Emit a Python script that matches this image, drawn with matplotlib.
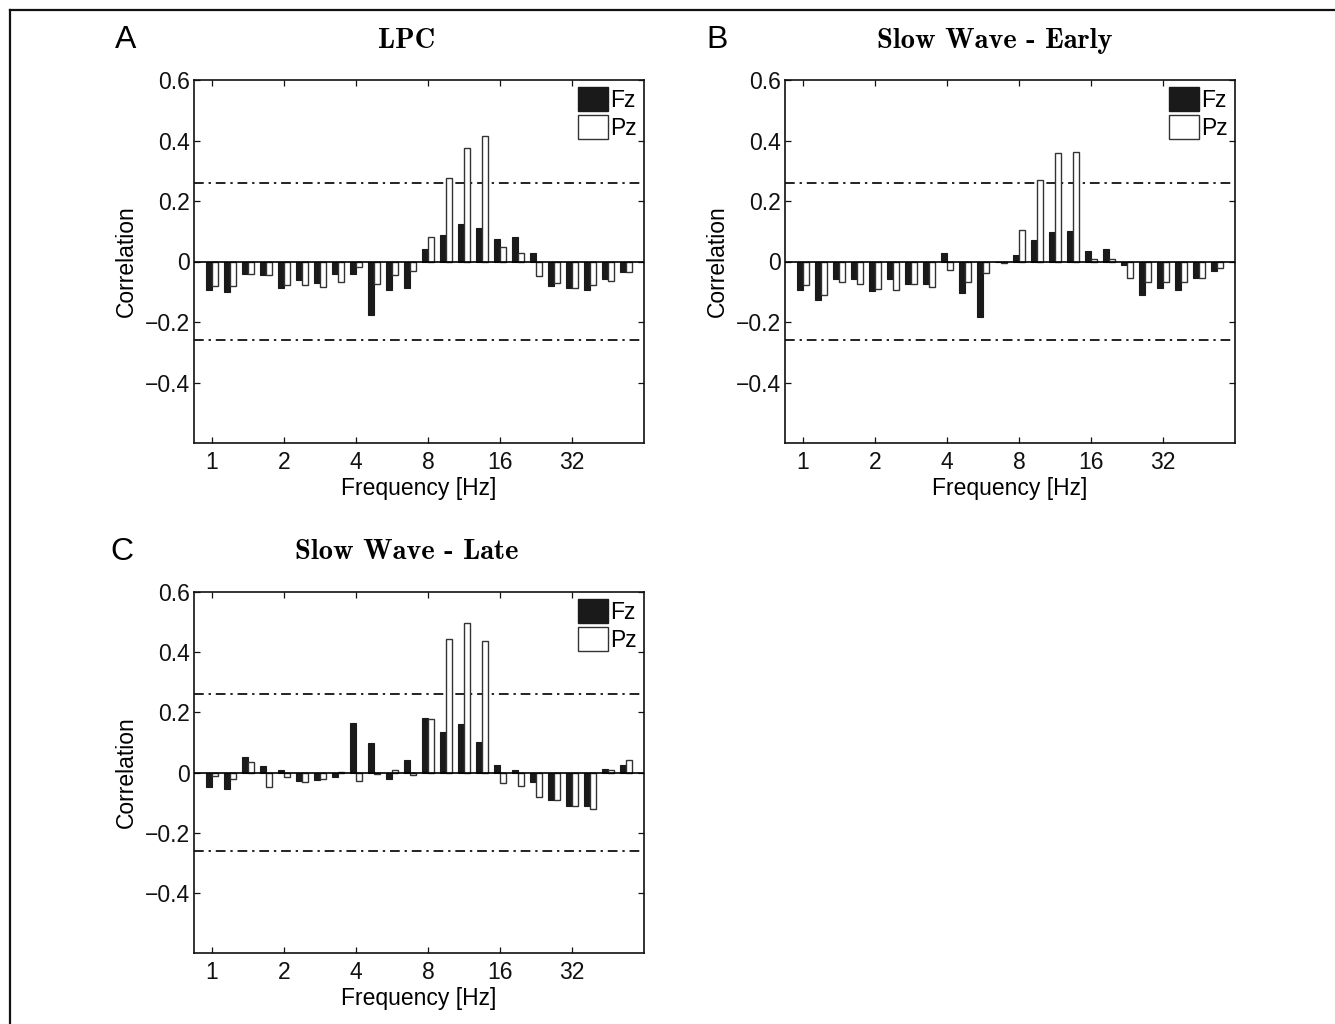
import numpy as np
import matplotlib
matplotlib.use("Agg")
import matplotlib.pyplot as plt
from matplotlib.lines import Line2D

# Frequency bins (quarter-octave steps from 1 Hz)
freq_hz = [1.00, 1.19, 1.41, 1.68, 2.00, 2.38, 2.83, 3.36,
           4.00, 4.76, 5.66, 6.73, 8.00, 9.51, 11.31, 13.45,
           16.00, 19.03, 22.63, 26.91, 32.00, 38.05, 45.25, 53.82]
tick_freqs = [1, 2, 4, 8, 16, 32]
tick_labels = ["1", "2", "4", "8", "16", "32"]

# Correlations per bin, Fz and Pz electrodes
lpc_fz = [-0.093, -0.102, -0.042, -0.045, -0.086, -0.062, -0.070, -0.042,
          -0.040, -0.178, -0.093, -0.089, 0.041, 0.088, 0.124, 0.111,
          0.076, 0.080, 0.027, -0.082, -0.089, -0.093, -0.057, -0.036]
lpc_pz = [-0.082, -0.082, -0.042, -0.046, -0.077, -0.079, -0.085, -0.067,
          -0.019, -0.075, -0.045, -0.031, 0.080, 0.277, 0.376, 0.414,
          0.047, 0.029, -0.047, -0.070, -0.089, -0.079, -0.064, -0.034]

early_fz = [-0.093, -0.126, -0.057, -0.058, -0.099, -0.057, -0.073, -0.073,
            0.029, -0.103, -0.185, -0.003, 0.020, 0.071, 0.098, 0.102,
            0.035, 0.042, -0.010, -0.112, -0.086, -0.093, -0.056, -0.031]
early_pz = [-0.078, -0.111, -0.068, -0.076, -0.090, -0.093, -0.075, -0.084,
            -0.029, -0.068, -0.037, -0.006, 0.105, 0.271, 0.358, 0.362,
            0.007, 0.009, -0.054, -0.068, -0.069, -0.067, -0.055, -0.022]

late_fz = [-0.048, -0.055, 0.053, 0.023, 0.007, -0.029, -0.025, -0.014,
           0.164, 0.097, -0.022, 0.041, 0.182, 0.135, 0.160, 0.100,
           0.026, 0.009, -0.031, -0.090, -0.111, -0.111, 0.013, 0.024]
late_pz = [-0.011, -0.023, 0.035, -0.047, -0.016, -0.033, -0.022, 0.002,
           -0.027, -0.004, 0.007, -0.007, 0.179, 0.444, 0.497, 0.437,
           -0.035, -0.046, -0.082, -0.091, -0.113, -0.121, 0.008, 0.042]

significance = 0.26

panels = [
    ("A", "LPC", lpc_fz, lpc_pz),
    ("B", "Slow Wave - Early", early_fz, early_pz),
    ("C", "Slow Wave - Late", late_fz, late_pz),
]

W, H = 1335, 1024
fig = plt.figure(figsize=(W / 100, H / 100), dpi=100)
fig.patch.set_facecolor("white")

sans = ["Liberation Sans", "DejaVu Sans"]
serif_bold = ["cmb10", "DejaVu Serif"]
plt.rcParams["axes.unicode_minus"] = True
FS = 16.5

# axes boxes in pixels: left, top, right, bottom
boxes = [(194, 80, 644, 443), (785, 80, 1235, 443), (194, 592, 644, 953)]
letter_pos = [(126, 40), (717, 40), (122, 552)]
title_pos = [(407, 41), (995, 41), (407, 552)]

x = np.arange(len(freq_hz))
bw = 0.33
tick_pos = [freq_hz.index(float(f)) for f in tick_freqs]

for (letter, title, fz, pz), (l, t, r, b), (lx, ly), (tx, ty) in zip(
        panels, boxes, letter_pos, title_pos):
    ax = fig.add_axes([l / W, 1 - b / H, (r - l) / W, (b - t) / H])
    ax.bar(x - bw / 2, fz, width=bw, color="#1a1a1a", edgecolor="#1a1a1a",
           linewidth=0.8, zorder=2, label="Fz")
    ax.bar(x + bw / 2, pz, width=bw, color="white", edgecolor="#333333",
           linewidth=1.0, zorder=2, label="Pz")
    ax.axhline(0, color="black", linewidth=1.2, zorder=3)
    for s in (significance, -significance):
        ax.axhline(s, color="#222222", linestyle=(0, (5, 2.5, 1.2, 2.5)),
                   linewidth=1.4, zorder=1)
    ax.set_xlim(-1, 24)
    ax.set_ylim(-0.6, 0.6)
    ax.set_xticks(tick_pos)
    ax.set_xticklabels(tick_labels, fontfamily=sans, fontsize=FS)
    yt = [-0.4, -0.2, 0, 0.2, 0.4, 0.6]
    ax.set_yticks(yt)
    ax.set_yticklabels(["\u22120.4", "\u22120.2", "0", "0.2", "0.4", "0.6"],
                       fontfamily=sans, fontsize=FS)
    ax.tick_params(direction="in", length=4, width=0.9, top=True, right=True,
                   colors="#111111")
    ax.tick_params(axis="x", pad=6)
    ax.tick_params(axis="y", pad=3)
    for sp in ax.spines.values():
        sp.set_linewidth(1.2)
        sp.set_color("#111111")
    ax.set_xlabel("Frequency [Hz]", fontfamily=sans, fontsize=FS)
    ax.xaxis.set_label_coords(0.5, -0.095)
    ax.set_ylabel("Correlation", fontfamily=sans, fontsize=FS)
    ax.yaxis.set_label_coords(-0.125, 0.5)
    leg = ax.legend(loc="upper right", frameon=False,
                    prop={"family": sans, "size": FS},
                    handlelength=1.3, handleheight=1.25, handletextpad=0.1,
                    labelspacing=0.15, borderaxespad=0.1, borderpad=0.2)
    for h in leg.legend_handles:
        h.set_linewidth(1.0)
    fig.text(lx / W, 1 - ly / H, letter, fontfamily=sans, fontsize=23,
             ha="center", va="center")
    fig.text(tx / W, 1 - ty / H, title, fontfamily=serif_bold, fontsize=20.5,
             ha="center", va="center")

# page frame along the top and left edges
fig.add_artist(Line2D([10 / W, 1.0], [1 - 10 / H, 1 - 10 / H],
                      color="#111111", linewidth=1.6, transform=fig.transFigure))
fig.add_artist(Line2D([10 / W, 10 / W], [1 - 10 / H, 0.0],
                      color="#111111", linewidth=1.6, transform=fig.transFigure))

fig.savefig("out.png", dpi=100, facecolor="white")
